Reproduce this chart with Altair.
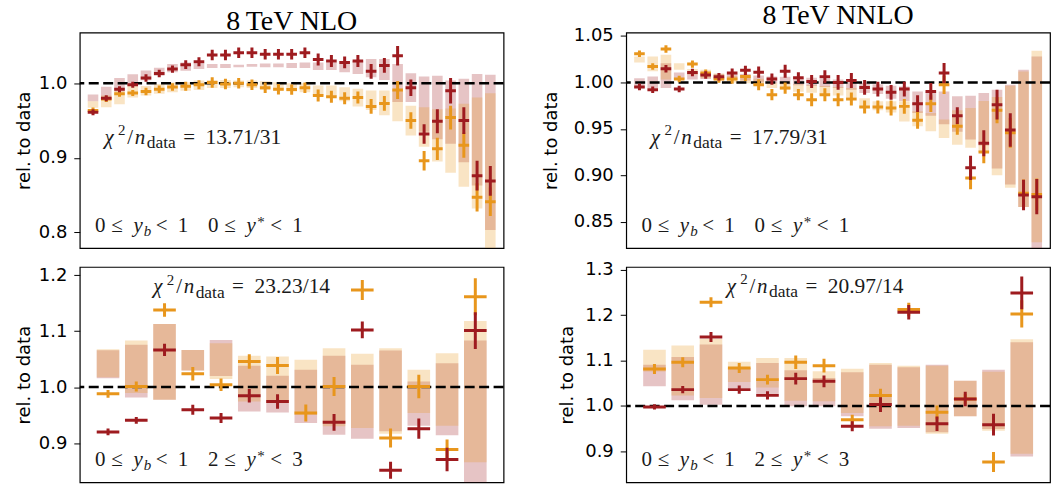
import altair as alt
import pandas as pd

RED = "#9e1b1f"
ORANGE = "#e8961c"

# ---------------- 8 TeV NLO, 0<=yb<1, 0<=y*<1 (31 bins) ----------------
nlo_a_red = [0.961, 0.980, 0.992, 0.998, 1.007, 1.013, 1.019, 1.025, 1.029, 1.038,
             1.038, 1.041, 1.041, 1.039, 1.039, 1.039, 1.041, 1.032, 1.030, 1.028,
             1.030, 1.016, 1.024, 1.037, 0.994, 0.932, 0.949, 0.990, 0.950, 0.876, 0.869]
nlo_a_red_err = [0.004, 0.004, 0.004, 0.004, 0.005, 0.005, 0.005, 0.006, 0.006, 0.007,
                 0.007, 0.007, 0.007, 0.007, 0.007, 0.007, 0.007, 0.008, 0.008, 0.008,
                 0.008, 0.010, 0.010, 0.013, 0.011, 0.013, 0.016, 0.017, 0.018, 0.020, 0.020]
nlo_a_org = [0.9635, 0.979, 0.986, 0.987, 0.989, 0.992, 0.995, 0.996, 0.998, 1.001,
             0.999, 1.000, 0.998, 0.994, 0.992, 0.9915, 0.994, 0.9835, 0.982, 0.980,
             0.981, 0.969, 0.973, 0.991, 0.950, 0.896, 0.912, 0.954, 0.917, 0.847, 0.841]
nlo_a_org_err = [0.004, 0.004, 0.004, 0.004, 0.005, 0.005, 0.005, 0.006, 0.006, 0.007,
                 0.007, 0.007, 0.007, 0.007, 0.007, 0.007, 0.007, 0.008, 0.008, 0.008,
                 0.008, 0.010, 0.010, 0.012, 0.011, 0.013, 0.015, 0.016, 0.017, 0.019, 0.019]
nlo_a_red_lo = [0.976, 0.981, 0.989, 0.997, 1.004, 1.010, 1.0147, 1.0169, 1.019, 1.0205,
                1.0205, 1.0214, 1.0223, 1.0214, 1.0214, 1.0205, 1.0205, 1.0178, 1.0178, 1.0147,
                1.0125, 1.008, 1.0045, 0.975, 0.975, 0.935, 0.925, 0.919, 0.894, 0.863, 0.803]
nlo_a_red_hi = [0.985, 0.9955, 1.007, 1.012, 1.017, 1.021, 1.0259, 1.028, 1.0267, 1.0258,
                1.0258, 1.025, 1.0258, 1.0267, 1.0267, 1.0272, 1.028, 1.028, 1.028, 1.030,
                1.030, 1.0325, 1.0325, 1.026, 1.0134, 1.009, 1.010, 1.0036, 1.006, 1.0125, 1.0116]
nlo_a_org_lo = [0.967, 0.968, 0.972, 0.981, 0.9835, 0.986, 0.988, 0.990, 0.9911, 0.9938,
                0.9938, 0.9947, 0.9938, 0.9911, 0.990, 0.989, 0.988, 0.9835, 0.9822, 0.976,
                0.9688, 0.9643, 0.9572, 0.949, 0.930, 0.915, 0.895, 0.880, 0.861, 0.832, 0.770]
nlo_a_org_hi = [0.976, 0.9835, 0.990, 0.999, 0.9964, 0.999, 1.001, 1.0013, 1.0036, 1.0045,
                1.0045, 1.0036, 1.0036, 1.0027, 1.0013, 1.000, 1.000, 0.9969, 0.9969, 0.9947,
                0.9925, 0.9902, 0.9902, 0.990, 0.970, 0.968, 0.965, 0.966, 0.9725, 0.981, 0.9866]

# ---------------- 8 TeV NNLO, 0<=yb<1, 0<=y*<1 (31 bins) ----------------
nnlo_a_red = [0.995, 0.992, 1.0147, 0.993, 1.0107, 1.008, 1.006, 1.010, 1.013, 1.011,
              1.0036, 1.012, 1.005, 1.001, 1.006, 1.000, 1.002, 0.9946, 0.9928, 0.9893,
              0.9928, 0.9771, 0.9903, 1.010, 0.9642, 0.9081, 0.9345, 0.976, 0.9488, 0.8788, 0.877]
nnlo_a_red_err = [0.0035, 0.0035, 0.004, 0.0035, 0.004, 0.004, 0.004, 0.005, 0.005, 0.006,
                  0.006, 0.007, 0.006, 0.007, 0.007, 0.008, 0.008, 0.008, 0.008, 0.008,
                  0.008, 0.009, 0.009, 0.011, 0.009, 0.013, 0.014, 0.016, 0.018, 0.0165, 0.019]
nnlo_a_org = [1.0308, 1.0172, 1.036, 1.0036, 1.0197, 1.010, 1.0036, 1.0036, 1.0064, 0.9975,
              0.9868, 0.9939, 0.9868, 0.9814, 0.9868, 0.9814, 0.9821, 0.9735, 0.9735, 0.9725,
              0.9742, 0.9592, 0.9771, 0.9975, 0.9528, 0.897, 0.925, 0.970, 0.9457, 0.8806, 0.8795]
nnlo_a_org_err = [0.0035, 0.0035, 0.004, 0.0035, 0.004, 0.004, 0.004, 0.005, 0.005, 0.006,
                  0.006, 0.006, 0.006, 0.007, 0.007, 0.007, 0.007, 0.007, 0.007, 0.008,
                  0.008, 0.009, 0.009, 0.010, 0.009, 0.012, 0.012, 0.014, 0.016, 0.015, 0.017]
nnlo_a_red_lo = [0.994, 0.994, 0.994, 1.003, 1.003, 1.0036, 1.0029, 1.0029, 1.002, 1.000,
                 0.999, 0.998, 0.997, 0.996, 0.995, 0.994, 0.992, 0.9886, 0.9875, 0.9825,
                 0.980, 0.967, 0.964, 0.955, 0.947, 0.9385, 0.932, 0.9074, 0.890, 0.866, 0.820]
nnlo_a_red_hi = [1.0046, 1.0064, 1.0207, 1.0107, 1.0107, 1.0107, 1.0093, 1.0093, 1.009, 1.0075,
                 1.0064, 1.006, 1.005, 1.005, 1.004, 1.003, 1.002, 0.9993, 0.998, 0.9965,
                 0.9955, 0.9903, 0.9903, 0.9903, 0.985, 0.9857, 0.9886, 0.992, 0.9975, 1.0136, 1.028]
nnlo_a_org_lo = [1.0215, 1.012, 1.003, 1.0136, 1.0082, 1.0046, 1.002, 1.000, 0.999, 0.997,
                 0.994, 0.992, 0.990, 0.989, 0.987, 0.986, 0.984, 0.9725, 0.970, 0.9675,
                 0.958, 0.9528, 0.9474, 0.9403, 0.933, 0.9296, 0.925, 0.900, 0.8867, 0.866, 0.828]
nnlo_a_org_hi = [1.028, 1.028, 1.0297, 1.0207, 1.0143, 1.0136, 1.0093, 1.007, 1.006, 1.004,
                 0.9993, 0.999, 0.998, 0.997, 0.996, 0.995, 0.994, 0.983, 0.9796, 0.9796,
                 0.9796, 0.9689, 0.967, 0.960, 0.970, 0.9725, 0.980, 0.9843, 0.9965, 1.0118, 1.034]

# ---------------- 8 TeV NLO, 0<=yb<1, 2<=y*<3 (14 bins) ----------------
nlo_b_red = [0.9198, 0.9406, 1.0665, 0.9596, 0.9447, 0.9846, 0.9744, None, 0.937, 1.1022,
             0.8514, 0.9257, 0.8705, 1.101]
nlo_b_red_err = [0.006, 0.006, 0.011, 0.009, 0.009, 0.012, 0.013, 0.0, 0.015, 0.015,
                 0.015, 0.018, 0.021, 0.033]
nlo_b_org = [0.988, 1.0012, 1.1378, 1.0238, 1.0042, 1.0458, 1.0386, 0.9537, 1.0012, 1.1735,
             0.9091, 1.0012, 0.8883, 1.1616]
nlo_b_org_err = [0.007, 0.009, 0.012, 0.012, 0.011, 0.013, 0.015, 0.015, 0.017, 0.018,
                 0.017, 0.021, 0.018, 0.033]
nlo_b_red_lo = [1.016, 0.9816, 0.9774, 1.0297, 1.020, 0.9566, 0.9548, 0.9358, 0.915, 0.9079,
                0.921, 0.9311, 0.9138, 0.820]
nlo_b_red_hi = [1.066, 1.0755, 1.1129, 1.0665, 1.0844, 1.038, 1.0202, 1.0309, 1.0559, 1.0398,
                1.0654, 1.0101, 1.0428, 1.0832]
nlo_b_org_lo = [1.0178, 0.9893, 0.9774, 1.0297, 1.0143, 0.9744, 0.9715, 0.9507, 0.9299, 0.9269,
                0.9168, 0.9537, 0.9311, 0.8657]
nlo_b_org_hi = [1.0677, 1.0832, 1.1129, 1.0665, 1.0784, 1.0559, 1.0547, 1.0487, 1.0695, 1.0594,
                1.0695, 1.0309, 1.0606, 1.1182]

# ---------------- 8 TeV NNLO, 0<=yb<1, 2<=y*<3 (14 bins) ----------------
nnlo_b_red = [0.998, 1.036, 1.152, 1.036, 1.0235, 1.0602, 1.0543, 0.9552, 1.003, 1.2063,
              0.961, 1.0154, 0.9588, 1.2489]
nnlo_b_red_err = [0.006, 0.008, 0.011, 0.009, 0.009, 0.013, 0.013, 0.011, 0.016, 0.016,
                  0.016, 0.016, 0.024, 0.036]
nnlo_b_org = [1.0815, 1.0962, 1.2283, 1.0837, 1.058, 1.0962, 1.0888, 0.9699, 1.0228, 1.2122,
              0.986, 1.0154, 0.8767, 1.2026]
nnlo_b_org_err = [0.011, 0.011, 0.011, 0.011, 0.011, 0.015, 0.015, 0.011, 0.015, 0.015,
                  0.015, 0.011, 0.022, 0.030]
nnlo_b_red_lo = [1.0433, 1.0125, 1.0029, 1.0396, 1.0286, 0.9993, 0.9993, 0.9772, 0.9501, 0.9515,
                 0.942, 0.9772, 0.9493, 0.889]
nnlo_b_red_hi = [1.091, 1.1079, 1.1351, 1.0837, 1.0947, 1.0786, 1.0617, 1.0742, 1.091, 1.0852,
                 1.091, 1.0558, 1.080, 1.140]
nnlo_b_org_lo = [1.076, 1.0228, 1.0176, 1.0529, 1.0404, 1.0117, 1.0103, 0.9846, 0.9552, 0.9567,
                 0.939, 0.9772, 0.9457, 0.895]
nnlo_b_org_hi = [1.124, 1.1329, 1.1476, 1.0976, 1.1057, 1.1057, 1.0764, 1.0822, 1.0947, 1.0888,
                 1.0888, 1.0558, 1.0756, 1.147]

ONE = pd.DataFrame({"k": [0]})
MATH_FONT = "Liberation Serif"
TEXT_COLOR = "#1a1a1a"


def txt(s, x, y, size, italic=False):
    return alt.Chart(ONE).mark_text(
        text=s, align="left", baseline="alphabetic", font=MATH_FONT,
        fontSize=size, fontStyle="italic" if italic else "normal", color=TEXT_COLOR,
    ).encode(x=alt.value(x), y=alt.value(y))


def chi_label(x0, y0, value):
    F = 21
    return [
        txt("χ", x0, y0, F, True),
        txt("2", x0 + 13.6, y0 - 8.5, 15),
        txt("/", x0 + 23.0, y0, F),
        txt("n", x0 + 30.5, y0, F, True),
        txt("data", x0 + 42.5, y0 + 4.5, 17.5),
        txt("=", x0 + 79.0, y0, F),
        txt(value, x0 + 101.5, y0, 21.5),
    ]


def region_label(x0, y0, ystar_lo, ystar_hi):
    F = 21
    s = 15
    g = x0 + 113.4
    return [
        txt("0", x0, y0, F), txt("≤", x0 + 16.3, y0, F),
        txt("y", x0 + 38.5, y0, F, True), txt("b", x0 + 48.8, y0 + 4, s, True),
        txt("<", x0 + 60.9, y0, F), txt("1", x0 + 83.0, y0, F),
        txt(ystar_lo, g, y0, F), txt("≤", g + 16.3, y0, F),
        txt("y", g + 38.5, y0, F, True), txt("*", g + 49.3, y0 - 5, s),
        txt("<", g + 62.4, y0, F), txt(ystar_hi, g + 84.5, y0, F),
    ]


def panel(red, red_err, org, org_err, red_lo, red_hi, org_lo, org_hi,
          ydomain, yticks, tick_fmt, chi_text, chi_xy, ystar, title_pad, title=None):
    n = len(red)
    df = pd.DataFrame({
        "i": list(range(1, n + 1)),
        "red": red, "red_err": red_err, "org": org, "org_err": org_err,
        "red_lo": red_lo, "red_hi": red_hi, "org_lo": org_lo, "org_hi": org_hi,
    })
    df["x0"] = df["i"] - 0.4
    df["x1"] = df["i"] + 0.4
    df["red_a"] = df["red"] - df["red_err"]
    df["red_b"] = df["red"] + df["red_err"]
    df["org_a"] = df["org"] - df["org_err"]
    df["org_b"] = df["org"] + df["org_err"]
    red_df = df.dropna(subset=["red"])

    xscale = alt.Scale(domain=[0, n + 1], nice=False, zero=False)
    yscale = alt.Scale(domain=ydomain, nice=False, zero=False)
    yaxis = alt.Axis(values=yticks, format=tick_fmt, titlePadding=title_pad)

    def X(f):
        return alt.X(f, type="quantitative", scale=xscale, axis=None)

    def Y(f):
        return alt.Y(f, type="quantitative", scale=yscale, axis=yaxis, title="rel. to data")

    base = alt.Chart(df)
    layers = [
        base.mark_rect(color=RED, opacity=0.26, clip=True).encode(
            x=X("x0"), x2="x1", y=Y("red_lo"), y2="red_hi"),
        base.mark_rect(color=ORANGE, opacity=0.26, clip=True).encode(
            x=X("x0"), x2="x1", y=Y("org_lo"), y2="org_hi"),
        alt.Chart(pd.DataFrame({"ref": [1.0]})).mark_rule(
            color="black", strokeWidth=2.5, strokeDash=[10, 4.5]).encode(y=Y("ref")),
        base.mark_rule(color=ORANGE, strokeWidth=3, clip=True).encode(
            x=X("x0"), x2="x1", y=Y("org")),
        base.mark_rule(color=ORANGE, strokeWidth=3, clip=True).encode(
            x=X("i"), y=Y("org_a"), y2="org_b"),
        alt.Chart(red_df).mark_rule(color=RED, strokeWidth=3, clip=True).encode(
            x=X("x0"), x2="x1", y=Y("red")),
        alt.Chart(red_df).mark_rule(color=RED, strokeWidth=3, clip=True).encode(
            x=X("i"), y=Y("red_a"), y2="red_b"),
    ]
    layers += chi_label(chi_xy[0], chi_xy[1], chi_text)
    layers += region_label(15.3, 199.7, ystar[0], ystar[1])
    props = dict(width=425, height=216)
    if title is not None:
        props["title"] = alt.TitleParams(
            title, font="Liberation Serif", fontSize=28, fontWeight="normal",
            color="black", anchor="middle", offset=-3)
    return alt.layer(*layers).properties(**props)


tl = panel(nlo_a_red, nlo_a_red_err, nlo_a_org, nlo_a_org_err,
           nlo_a_red_lo, nlo_a_red_hi, nlo_a_org_lo, nlo_a_org_hi,
           [0.779, 1.068], [0.8, 0.9, 1.0], ".1f", "13.71/31", (24.7, 111.3),
           ("0", "1"), 5, title="8\u2009TeV NLO")
tr = panel(nnlo_a_red, nnlo_a_red_err, nnlo_a_org, nnlo_a_org_err,
           nnlo_a_red_lo, nnlo_a_red_hi, nnlo_a_org_lo, nnlo_a_org_hi,
           [0.8218, 1.0536], [0.85, 0.9, 0.95, 1.0, 1.05], ".2f", "17.79/31", (24.7, 111.3),
           ("0", "1"), 13, title="8\u2009TeV NNLO")
bl = panel(nlo_b_red, nlo_b_red_err, nlo_b_org, nlo_b_org_err,
           nlo_b_red_lo, nlo_b_red_hi, nlo_b_org_lo, nlo_b_org_hi,
           [0.8298, 1.2148], [0.9, 1.0, 1.1, 1.2], ".1f", "23.23/14", (73.7, 26.3),
           ("2", "3"), 5)
br = panel(nnlo_b_red, nnlo_b_red_err, nnlo_b_org, nnlo_b_org_err,
           nnlo_b_red_lo, nnlo_b_red_hi, nnlo_b_org_lo, nnlo_b_org_hi,
           [0.832, 1.306], [0.9, 1.0, 1.1, 1.2, 1.3], ".1f", "20.97/14", (100.7, 26.0),
           ("2", "3"), 8)

chart = alt.concat(
    tl, tr, bl, br, columns=2, spacing={"row": 19, "column": 123}
).properties(
    bounds="flush",
    padding={"left": 14, "top": 0, "right": 3, "bottom": 3},
    background="white",
).configure_view(
    stroke="black", strokeWidth=1.2
).configure_axis(
    domain=False, grid=False, ticks=True, tickSize=6, tickWidth=1, tickColor="black",
    labelFont="DejaVu Sans", labelFontSize=18, labelColor="black", labelPadding=7,
    titleFont="DejaVu Sans", titleFontSize=18, titleFontWeight="normal",
    titleColor="black",
)

chart.save("out.html", embed_options={"renderer": "svg", "actions": False})
